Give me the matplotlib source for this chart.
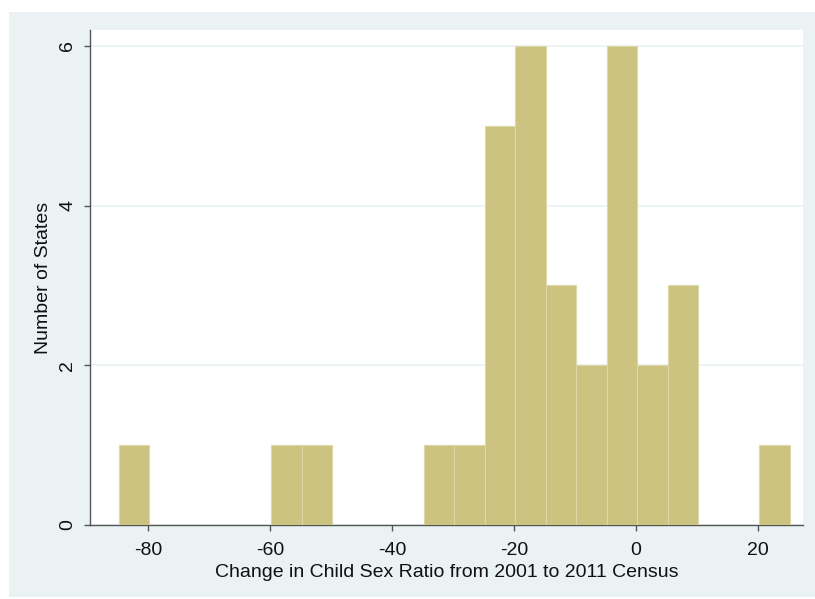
import matplotlib
matplotlib.use("Agg")
import matplotlib.pyplot as plt
from matplotlib.patches import Rectangle
import numpy as np

# Histogram of state-level change in child sex ratio (bins of width 5)
bin_start = -84.75
bin_width = 5
counts = [1, 0, 0, 0, 0, 1, 1, 0, 0, 0, 1, 1, 5, 6, 3, 2, 6, 2, 3, 0, 0, 1]
x_ticks = [-80, -60, -40, -20, 0, 20]
y_ticks = [0, 2, 4, 6]
x_label = "Change in Child Sex Ratio from 2001 to 2011 Census"
y_label = "Number of States"

edges = bin_start + bin_width * np.arange(len(counts) + 1)

plt.rcParams['font.family'] = ['Liberation Sans', 'DejaVu Sans']

W, H = 815, 599
fig = plt.figure(figsize=(W / 100, H / 100), dpi=100, facecolor="white")

# outer shaded graph region, kept behind the axes
bg = Rectangle((9 / W, 1 - 597 / H), (W - 9) / W, (597 - 12) / H,
               transform=fig.transFigure, facecolor="#eaf2f3",
               edgecolor="none", zorder=-10)
fig.add_artist(bg)

ax = fig.add_axes([90 / W, 1 - 525 / H, (803 - 90) / W, (525 - 30) / H])
ax.set_zorder(1)
ax.set_facecolor("white")

ax.bar(edges[:-1], counts, width=bin_width, align="edge",
       color="#cbc37f", edgecolor="#ddd8a8", linewidth=0.8, zorder=3)

ax.set_xlim(-89.5, 27.4)
ax.set_ylim(0, 6.2)
ax.set_xticks(x_ticks)
ax.set_yticks(y_ticks)
ax.set_xticklabels([str(v) for v in x_ticks])
ax.set_yticklabels([str(v) for v in y_ticks], rotation=90, va="center")

ax.yaxis.grid(True, color="#eaf2f3", linewidth=1.2, zorder=1)
ax.set_axisbelow(True)

for side in ("top", "right"):
    ax.spines[side].set_visible(False)
for side in ("left", "bottom"):
    ax.spines[side].set_color("#555555")
    ax.spines[side].set_linewidth(1.0)

ax.tick_params(axis="both", direction="out", length=4, width=1.0,
               color="#555555", labelsize=14, labelcolor="#111111")
ax.tick_params(axis="y", pad=6)
ax.tick_params(axis="x", pad=8)

ax.set_xlabel(x_label, fontsize=14, color="#111111", labelpad=4)
ax.set_ylabel(y_label, fontsize=14, color="#111111", labelpad=5)

fig.savefig("out.png", dpi=100, facecolor="white")
